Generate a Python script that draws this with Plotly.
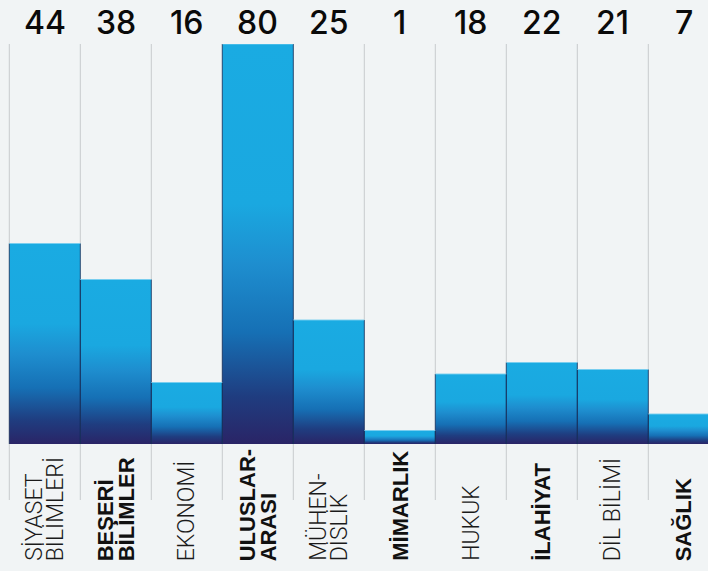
import plotly.graph_objects as go

# Data
counts = [44, 38, 16, 80, 25, 1, 18, 22, 21, 7]
heights = [40.1, 32.9, 12.3, 80, 24.8, 2.7, 14.0, 16.3, 14.9, 6.0]
label_lines = [
    ["SİYASET", "BİLİMLERİ"],
    ["BEŞERİ", "BİLİMLER"],
    ["EKONOMİ"],
    ["ULUSLAR-", "ARASI"],
    ["MÜHEN-", "DİSLİK"],
    ["MİMARLIK"],
    ["HUKUK"],
    ["İLAHİYAT"],
    ["DİL BİLİMİ"],
    ["SAĞLIK"],
]
bold = [False, True, False, True, False, True, False, True, False, True]

BG = "#f1f4f5"
gradient = [
    [0.0, "#2a2466"],
    [0.12, "#1f3d80"],
    [0.28, "#1670b5"],
    [0.45, "#1e8ecf"],
    [0.60, "#1aa8e0"],
    [1.0, "#1aabe2"],
]

fig = go.Figure()

for i, h in enumerate(heights):
    fig.add_trace(go.Scatter(
        x=[i - 0.5, i - 0.5, i + 0.5, i + 0.5, i - 0.5],
        y=[0, h, h, 0, 0],
        mode="lines",
        fill="toself",
        fillgradient=dict(type="vertical", colorscale=gradient),
        line=dict(width=0, color="rgba(0,0,0,0)"),
        hoverinfo="skip",
        showlegend=False,
    ))

# bar side separators and top highlights
sx, sy, tx, ty = [], [], [], []
for i, h in enumerate(heights):
    sx += [i - 0.5, i - 0.5, None, i + 0.5, i + 0.5, None]
    sy += [0, h, None, 0, h, None]
    tx += [i - 0.5, i + 0.5, None]
    ty += [h, h, None]
fig.add_trace(go.Scatter(x=sx, y=sy, mode="lines",
                         line=dict(color="rgba(18,40,85,0.75)", width=1),
                         hoverinfo="skip", showlegend=False))
fig.add_trace(go.Scatter(x=tx, y=ty, mode="lines",
                         line=dict(color="rgba(120,205,240,0.9)", width=1.2),
                         hoverinfo="skip", showlegend=False))

# vertical grid lines
for i in range(len(counts) + 1):
    fig.add_shape(type="line", xref="x", yref="paper",
                  x0=i - 0.5, x1=i - 0.5, y0=-0.14, y1=1.0,
                  line=dict(color="#c9cbcd", width=1), layer="below")

# value labels on top
for i, c in enumerate(counts):
    fig.add_annotation(x=i, y=1.055, xref="x", yref="paper",
                       text=str(c), showarrow=False,
                       xanchor="center", yanchor="middle",
                       font=dict(family="Inter, Liberation Sans, Arial", size=32,
                                 color="#0a0a0a", weight=500))

# category labels (rotated)
for i, lines in enumerate(label_lines):
    n = len(lines)
    for k, line in enumerate(lines):
        shift = (k - (n - 1) / 2) * 21
        if bold[i]:
            font = dict(family="Liberation Sans, Arial", size=22, color="#111111", weight=700)
        else:
            font = dict(family="Roboto, Liberation Sans", size=23, color="#1a1a1a", weight=300)
        fig.add_annotation(x=i, y=-0.2975, xref="x", yref="paper",
                           text=line, showarrow=False, textangle=-90,
                           xanchor="center", yanchor="bottom", xshift=shift,
                           font=font)

left = -0.5 - 9.3 / 71.0
right = left + 708 / 71.0
fig.update_layout(
    width=708, height=571,
    margin=dict(l=0, r=0, t=44, b=127),
    paper_bgcolor=BG, plot_bgcolor=BG,
    xaxis=dict(range=[left, right], visible=False, fixedrange=True),
    yaxis=dict(range=[0, 80], visible=False, fixedrange=True),
    showlegend=False,
)

fig.write_html(
    "out.html",
    config={"displayModeBar": False},
    post_script="document.body.style.margin='0';document.body.style.background='#f1f4f5';document.body.style.overflow='hidden';",
)
